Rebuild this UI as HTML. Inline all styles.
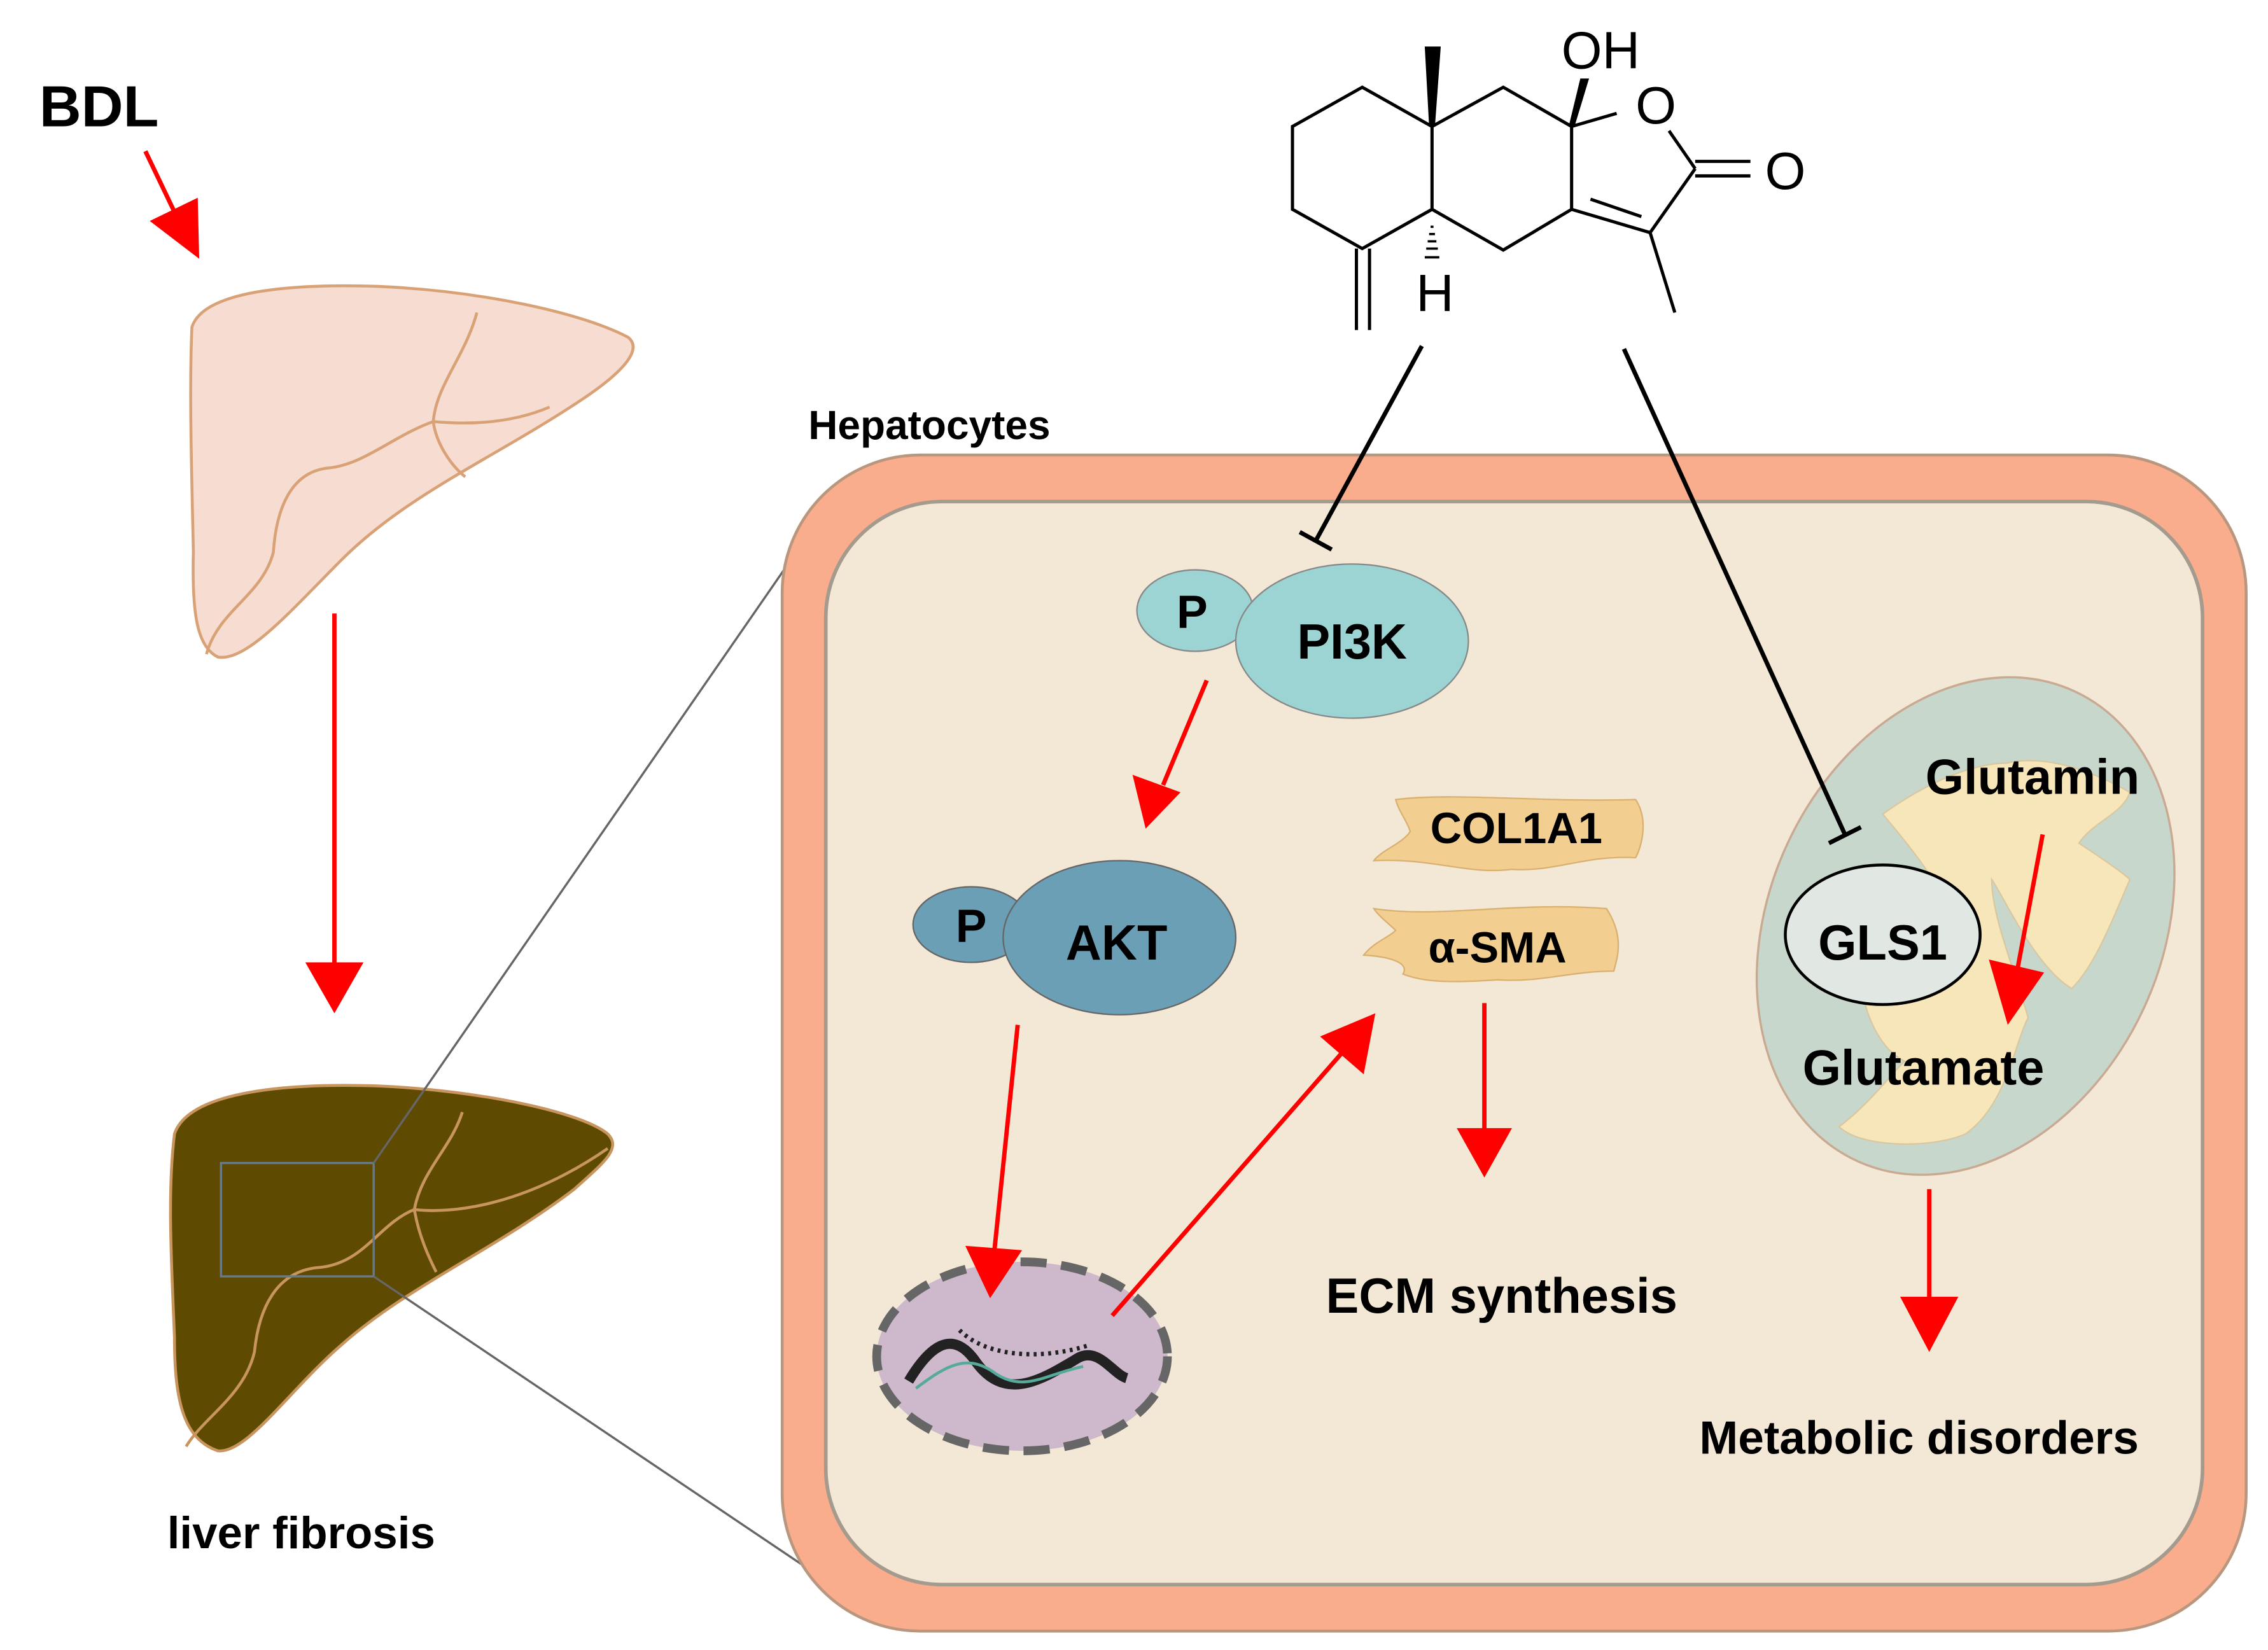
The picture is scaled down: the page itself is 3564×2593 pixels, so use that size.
<!DOCTYPE html>
<html><head><meta charset="utf-8"><style>
html,body{margin:0;padding:0;background:#fff;}
svg{display:block;}
text{font-family:"Liberation Sans",Arial,sans-serif;}
.b{font-weight:bold;}
</style></head><body>
<svg width="3564" height="2593" viewBox="0 0 1560 1135" xmlns="http://www.w3.org/2000/svg">
<rect width="1560" height="1135" fill="#fff"/>

<!-- BDL -->
<text x="27" y="87" class="b" font-size="40">BDL</text>
<line x1="100" y1="104" x2="122" y2="150" stroke="#f00" stroke-width="3"/>
<polygon points="137,178 103,152 136,136" fill="#f00"/>

<!-- top liver -->
<path d="M132,225 C140,200 200,195 260,197 C330,200 400,215 432,232 C442,240 430,255 400,275 C340,315 280,340 235,385 C200,420 170,455 150,452 C135,445 132,420 133,380 C132,330 130,270 132,225 Z" fill="#f7dcd2" stroke="#d8a276" stroke-width="2"/>
<path d="M328,215 C320,245 300,265 298,290 C320,292 350,292 378,280 M298,290 C300,305 310,320 320,328 M298,290 C270,300 250,320 225,322 C200,325 190,350 188,380 C180,410 150,420 142,450" fill="none" stroke="#d8a276" stroke-width="2"/>

<line x1="230" y1="422" x2="230" y2="665" stroke="#f00" stroke-width="3"/>
<polygon points="210,662 250,662 230,697" fill="#f00"/>

<!-- bottom liver -->
<path d="M120,780 C130,750 200,745 260,747 C330,750 400,765 418,780 C428,790 415,800 395,818 C340,860 280,885 235,925 C200,955 170,1000 150,998 C125,990 120,960 120,920 C118,870 115,820 120,780 Z" fill="#5e4a00" stroke="#c8955e" stroke-width="2"/>
<path d="M318,765 C310,790 290,805 285,832 C310,835 360,830 418,790 M285,832 C288,850 295,865 300,875 M285,832 C260,842 250,870 218,872 C190,875 178,900 175,930 C168,960 140,975 128,995" fill="none" stroke="#c8955e" stroke-width="2"/>
<rect x="152" y="800" width="105" height="78" fill="none" stroke="#6b7a80" stroke-width="1.5"/>
<line x1="257" y1="800" x2="560" y2="362" stroke="#666" stroke-width="1.5"/>
<line x1="257" y1="878" x2="575" y2="1092" stroke="#666" stroke-width="1.5"/>
<text x="115" y="1065" class="b" font-size="31">liver fibrosis</text>

<!-- cell -->
<text x="556" y="302" class="b" font-size="28">Hepatocytes</text>
<rect x="538" y="313" width="1007" height="809" rx="95" fill="#f9ad8c" stroke="#b9977f" stroke-width="2"/>
<rect x="568" y="345" width="947" height="745" rx="80" fill="#f3e8d6" stroke="#a59a8e" stroke-width="2.5"/>

<!-- molecule -->
<g stroke="#000" stroke-width="2.2" fill="none">
<polyline points="985,87 937,60 889,87 889,144 937,171 985,144 985,87 1034,60 1081,87 1081,144 1034,172 985,144"/>
<line x1="1081" y1="87" x2="1112" y2="78"/>
<line x1="1148" y1="90" x2="1166" y2="116"/>
<line x1="1166" y1="111" x2="1204" y2="111"/>
<line x1="1166" y1="121" x2="1204" y2="121"/>
<polyline points="1166,116 1135,160 1081,144"/>
<line x1="1094" y1="137" x2="1129" y2="149"/>
<line x1="1135" y1="160" x2="1152" y2="215"/>
<line x1="933" y1="171" x2="933" y2="227"/>
<line x1="942" y1="171" x2="942" y2="227"/>
</g>
<polygon points="983,87 987,87 991,32 980,32" fill="#000"/>
<polygon points="1079,87 1083,87 1093,54 1087,54" fill="#000"/>
<g stroke="#000" stroke-width="1.6">
<line x1="984" y1="156" x2="986" y2="156"/><line x1="983" y1="161" x2="987" y2="161"/><line x1="982" y1="166" x2="988" y2="166"/><line x1="981" y1="171" x2="989" y2="171"/><line x1="980" y1="177" x2="990" y2="177"/>
</g>
<text x="1101" y="47" font-size="36" text-anchor="middle">OH</text>
<text x="1139" y="85" font-size="36" text-anchor="middle">O</text>
<text x="1228" y="130" font-size="36" text-anchor="middle">O</text>
<text x="987" y="214" font-size="36" text-anchor="middle">H</text>

<!-- PI3K -->
<ellipse cx="822" cy="420" rx="40" ry="28" fill="#9bd4d3" stroke="#888" stroke-width="1"/>
<ellipse cx="930" cy="441" rx="80" ry="53" fill="#9bd4d3" stroke="#888" stroke-width="1"/>
<text x="820" y="432" class="b" font-size="32" text-anchor="middle">P</text>
<text x="930" y="453" class="b" font-size="34" text-anchor="middle">PI3K</text>
<line x1="830" y1="468" x2="800" y2="540" stroke="#f00" stroke-width="3"/>
<polygon points="779,533 812,545 788,570" fill="#f00"/>

<!-- AKT -->
<ellipse cx="668" cy="636" rx="40" ry="26" fill="#6b9fb6" stroke="#666" stroke-width="1"/>
<ellipse cx="770" cy="645" rx="80" ry="53" fill="#6b9fb6" stroke="#666" stroke-width="1"/>
<text x="668" y="648" class="b" font-size="32" text-anchor="middle">P</text>
<text x="768" y="660" class="b" font-size="34" text-anchor="middle">AKT</text>
<line x1="700" y1="705" x2="684" y2="860" stroke="#f00" stroke-width="3"/>

<!-- nucleus -->
<ellipse cx="703" cy="933" rx="100" ry="65" fill="#cdb9cb" stroke="#666" stroke-width="6" stroke-dasharray="18,10"/>
<path d="M625,950 C640,925 655,915 670,935 C690,965 715,950 740,935 C755,925 765,945 775,948" fill="none" stroke="#222" stroke-width="7"/>
<path d="M630,955 C650,940 665,930 685,945 C705,958 720,945 745,940" fill="none" stroke="#5a9" stroke-width="2"/>
<path d="M660,915 C680,935 720,935 750,925" fill="none" stroke="#222" stroke-width="3" stroke-dasharray="2,3"/>
<polygon points="664,857 703,860 681,893" fill="#f00"/>

<line x1="765" y1="905" x2="925" y2="722" stroke="#f00" stroke-width="3"/>
<polygon points="946,697 938,739 908,713" fill="#f00"/>

<!-- COL1A1 / SMA -->
<path d="M960,550 C1000,545 1060,552 1125,550 C1135,565 1128,585 1125,590 C1090,588 1070,600 1040,598 C1010,602 985,590 945,592 C950,585 965,580 970,572 C968,565 962,558 960,550 Z" fill="#f2cf90" stroke="#d9b070" stroke-width="1"/>
<text x="1043" y="580" class="b" font-size="30" text-anchor="middle">COL1A1</text>
<path d="M945,625 C990,632 1040,620 1105,625 C1118,645 1112,660 1110,668 C1080,668 1060,676 1030,674 C1000,676 980,676 965,670 C970,662 955,658 938,657 C945,648 955,645 960,640 C955,635 948,630 945,625 Z" fill="#f2cf90" stroke="#d9b070" stroke-width="1"/>
<text x="1030" y="662" class="b" font-size="30" text-anchor="middle">α-SMA</text>
<line x1="1021" y1="690" x2="1021" y2="780" stroke="#f00" stroke-width="3"/>
<polygon points="1002,776 1040,776 1021,810" fill="#f00"/>
<text x="912" y="903" class="b" font-size="34">ECM synthesis</text>

<!-- mitochondrion -->
<ellipse cx="1352" cy="637" rx="135" ry="178" transform="rotate(25 1352 637)" fill="#c7d7cc" stroke="#c9a991" stroke-width="1.5"/>
<path d="M1295,560 C1330,535 1360,525 1380,525 C1400,520 1430,525 1465,545 C1460,560 1440,565 1430,580 C1445,590 1460,600 1465,605 C1450,640 1440,665 1425,680 C1400,665 1380,620 1370,605 C1370,630 1385,665 1395,700 C1385,720 1380,760 1352,780 C1330,790 1280,790 1265,775 C1285,760 1300,740 1310,730 C1290,720 1280,690 1280,670 C1270,630 1290,615 1310,605 C1320,620 1335,640 1345,650 C1345,620 1320,590 1295,560 Z" fill="#f8e6bb" stroke="#d9c7a0" stroke-width="1"/>
<text x="1398" y="546" class="b" font-size="34" text-anchor="middle">Glutamin</text>
<ellipse cx="1295" cy="643" rx="67" ry="48" fill="#e1e8e3" stroke="#000" stroke-width="2"/>
<text x="1295" y="660" class="b" font-size="34" text-anchor="middle">GLS1</text>
<line x1="1405" y1="574" x2="1388" y2="665" stroke="#f00" stroke-width="3"/>
<polygon points="1368,660 1406,669 1381,705" fill="#f00"/>
<text x="1323" y="746" class="b" font-size="34" text-anchor="middle">Glutamate</text>
<line x1="1327" y1="818" x2="1327" y2="895" stroke="#f00" stroke-width="3"/>
<polygon points="1307,892 1347,892 1327,930" fill="#f00"/>
<text x="1320" y="1000" class="b" font-size="32" text-anchor="middle">Metabolic disorders</text>

<!-- inhibition lines -->
<line x1="978" y1="238" x2="905" y2="372" stroke="#000" stroke-width="3"/>
<line x1="894" y1="366" x2="916" y2="378" stroke="#000" stroke-width="3"/>
<line x1="1117" y1="240" x2="1269" y2="574" stroke="#000" stroke-width="3"/>
<line x1="1258" y1="580" x2="1280" y2="569" stroke="#000" stroke-width="3"/>
</svg>
</body></html>
